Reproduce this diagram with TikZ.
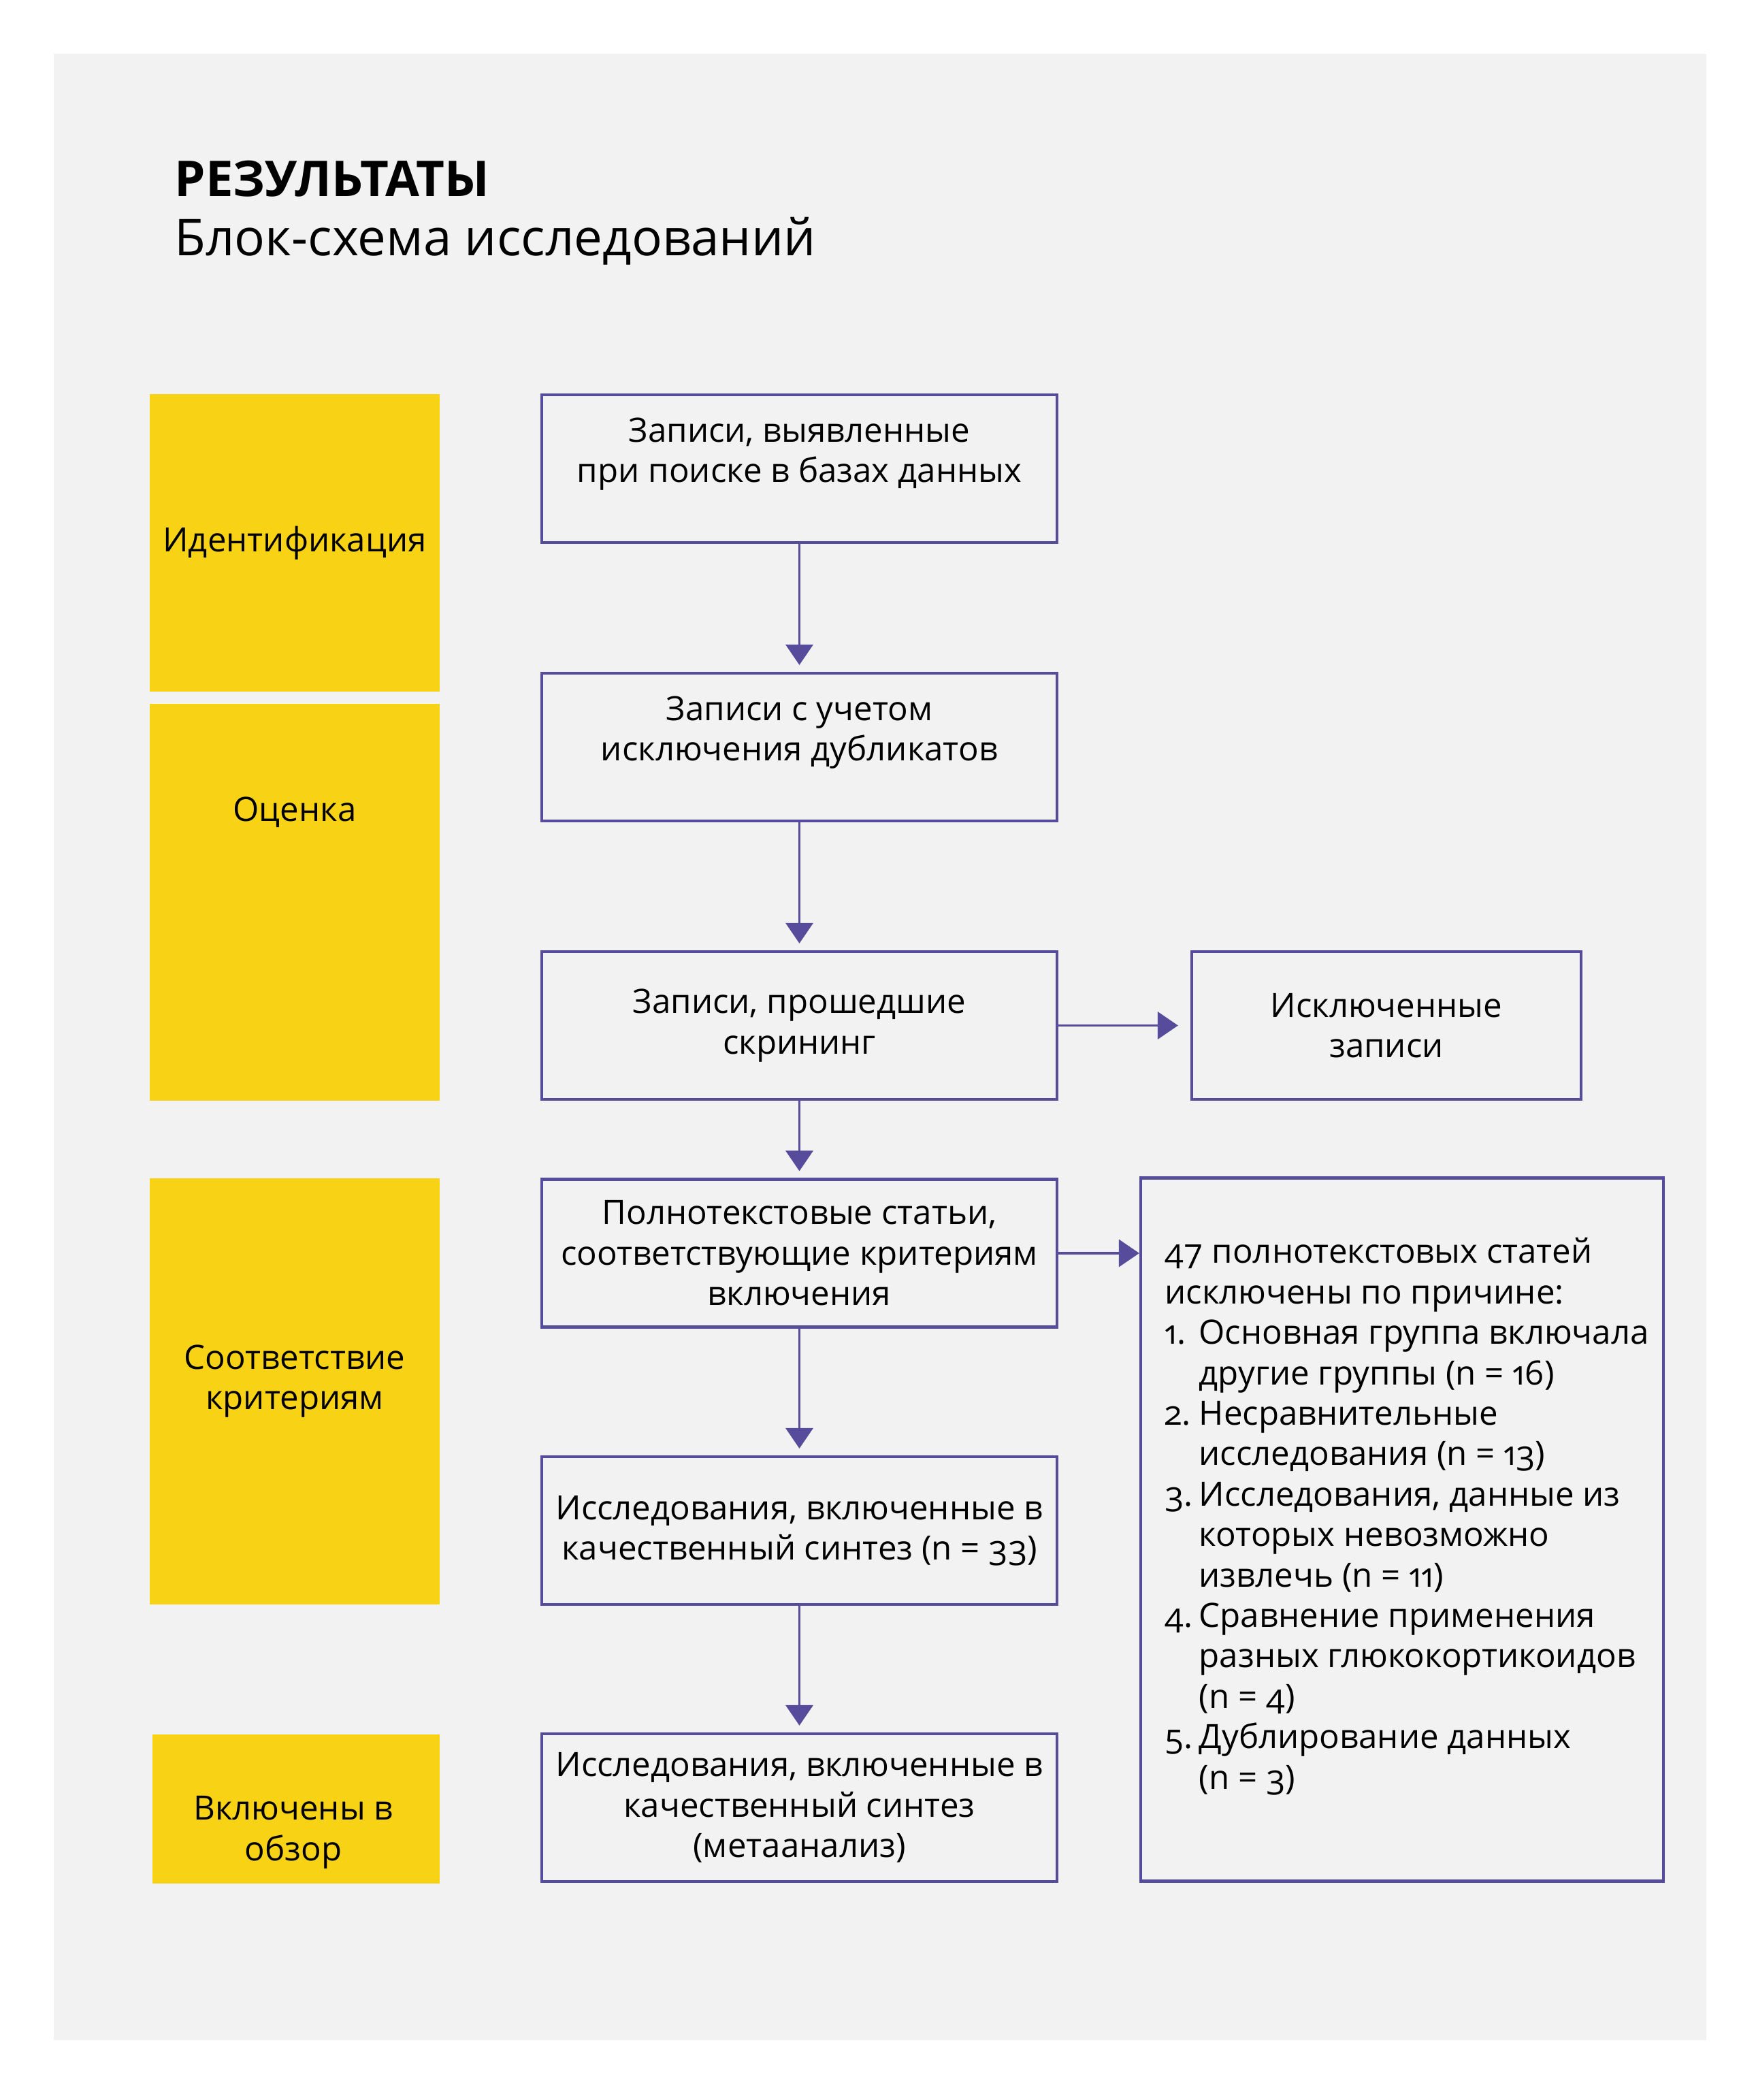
\documentclass[tikz,border=0pt]{standalone}
\usepackage{fontspec}
\setmainfont{Open Sans}[Numbers=OldStyle]
\usetikzlibrary{arrows.meta}

\definecolor{flowline}{HTML}{574B9C}
\definecolor{stagefill}{HTML}{F8D315}
\definecolor{pagebg}{HTML}{F2F2F2}

\newcommand{\boxfont}{\fontsize{14}{16.9}\selectfont}
\newcommand{\rnum}[1]{\makebox[0.5cm][l]{#1}}
\newcommand{\rind}{\hspace*{0.5cm}}

\tikzset{
  stage/.style={fill=stagefill, minimum width=4.255cm, inner sep=0pt, align=center, font=\boxfont},
  stagetext/.style={align=center, font=\boxfont},
  flowbox/.style={draw=flowline, line width=1.2pt, minimum width=7.57cm, minimum height=2.17cm,
    align=center, inner sep=0pt, font=\boxfont},
  uptext/.style={text depth=0.55cm},
  flow/.style={-{Triangle[width=0.4cm,length=0.3cm]}, draw=flowline, line width=1pt, shorten >=0.1cm},
}

\begin{document}
\begin{tikzpicture}[x=1cm, y=1cm]
  \fill[white] (0,0) rectangle (25.8,-30.85);
  \useasboundingbox (0,0) rectangle (25.8,-30.85);
  \fill[pagebg] (0.79,-0.79) rectangle (25.07,-29.97);

  % title
  \node[anchor=base west, inner sep=0pt, font=\fontsize{20.6}{25}\bfseries\selectfont] (title) at (2.56,-2.88) {РЕЗУЛЬТАТЫ};
  \node[anchor=base west, inner sep=0pt, font=\fontsize{21.2}{25}\selectfont] (subtitle) at (2.56,-3.75) {Блок-схема исследований};

  % stages
  \node[stage, minimum height=4.37cm] (ident) at (4.33,-7.975) {Идентификация};
  \node[stage, minimum height=5.83cm] (assess) at (4.33,-13.255) {};
  \node[stagetext] (assesslbl) at (4.33,-11.93) {Оценка};
  \node[stage, minimum height=6.26cm] (elig) at (4.33,-20.44) {};
  \node[stagetext] (eliglbl) at (4.33,-20.29) {Соответствие\\критериям};
  \node[stage, minimum width=4.22cm, minimum height=2.19cm] (incl) at (4.35,-26.575) {};
  \node[stagetext] (incllbl) at (4.31,-26.92) {Включены в\\обзор};

  % main flow
  \node[flowbox, uptext] (found) at (11.745,-6.885) {Записи, выявленные\\при поиске в базах данных};
  \node[flowbox, uptext] (dedup) at (11.745,-10.975) {Записи с учетом\\исключения дубликатов};
  \node[flowbox] (screened) at (11.745,-15.065) {Записи, прошедшие\\скрининг};
  \node[flowbox, minimum width=5.72cm] (excluded) at (20.37,-15.065) {Исключенные\\записи};
  \node[flowbox] (fulltext) at (11.745,-18.41) {Полнотекстовые статьи,\\соответствующие критериям\\включения};
  \node[flowbox] (quality) at (11.745,-22.485) {Исследования, включенные в\\качественный синтез (n = 33)};
  \node[flowbox] (meta) at (11.745,-26.555) {Исследования, включенные в\\качественный синтез\\(метаанализ)};

  % reasons for exclusion
  \node[flowbox, minimum width=7.68cm, minimum height=10.33cm] (reasons) at (20.6,-22.47) {};
  \node[anchor=north west, inner sep=0pt, align=left, font=\boxfont] (reasonlist) at (17.11,-18.18) {%
    47 полнотекстовых статей\\
    исключены по причине:\\
    \rnum{1.}Основная группа включала\\
    \rind другие группы (n = 16)\\
    \rnum{2.}Несравнительные\\
    \rind исследования (n = 13)\\
    \rnum{3.}Исследования, данные из\\
    \rind которых невозможно\\
    \rind извлечь (n = 11)\\
    \rnum{4.}Сравнение применения\\
    \rind разных глюкокортикоидов\\
    \rind (n = 4)\\
    \rnum{5.}Дублирование данных\\
    \rind (n = 3)};

  % arrows
  \draw[flow] (found) -- (dedup);
  \draw[flow] (dedup) -- (screened);
  \draw[flow] (screened) -- (fulltext);
  \draw[flow] (fulltext) -- (quality);
  \draw[flow] (quality) -- (meta);
  \draw[flow, shorten >=0.18cm] (screened) -- (excluded);
  \draw[flow, shorten >=0pt] (fulltext.east) -- (fulltext.east -| reasons.west);
\end{tikzpicture}
\end{document}
